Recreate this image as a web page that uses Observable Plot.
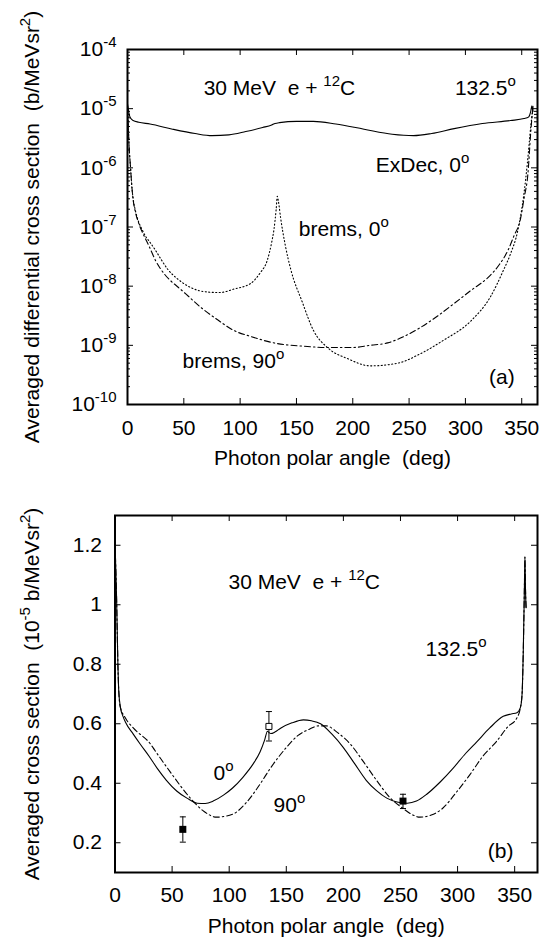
<!DOCTYPE html>
<html>
<head>
<meta charset="utf-8">
<script src="https://cdn.jsdelivr.net/npm/d3@7"></script>
<script src="https://cdn.jsdelivr.net/npm/@observablehq/plot@0.6"></script>
<style>
  body { margin: 0; background: #fff; }
  #chart svg { display: block; }
  svg text, svg tspan { white-space: pre; }
</style>
</head>
<body>
<div id="chart"></div>
<script>
// ---------------- data: panel (a) ----------------
const exdecAngle = [0, 0.5, 1.5, 3, 5, 10, 20, 40, 60, 75, 90, 105, 120, 128, 131, 135, 150, 165, 185, 210, 235, 254, 270, 290, 315, 340, 352, 356, 358, 359, 360];
const exdecValue = [1.2e-5, 1.05e-5, 8e-6, 6.8e-6, 6.3e-6, 5.9e-6, 5.5e-6, 4.5e-6, 3.8e-6, 3.5e-6, 3.6e-6, 4.1e-6, 4.8e-6, 5.3e-6, 5.6e-6, 5.8e-6, 6.1e-6, 6.1e-6, 5.5e-6, 4.5e-6, 3.7e-6, 3.5e-6, 3.8e-6, 4.6e-6, 5.6e-6, 6.3e-6, 6.8e-6, 7.2e-6, 9e-6, 1.12e-5, 9e-6];

const brems0Angle = [0, 0.7, 1.5, 2.7, 4, 5, 7, 10, 13, 16, 20, 25, 30, 36, 45, 56, 70, 82, 95, 109, 118, 124, 128, 130, 132, 133, 134, 136, 140, 145, 155, 165, 178, 195, 216, 240, 260, 280, 305, 322, 334, 340, 346.5, 352, 355, 358, 360];
const brems0Value = [1.1e-5, 5e-6, 2.2e-6, 1e-6, 4.5e-7, 3e-7, 1.9e-7, 1.2e-7, 9e-8, 7e-8, 5.5e-8, 4e-8, 2.8e-8, 1.9e-8, 1.3e-8, 9.5e-9, 8e-9, 7.8e-9, 9e-9, 1.1e-8, 1.7e-8, 2.7e-8, 5.5e-8, 9e-8, 2e-7, 3.3e-7, 2.7e-7, 1.4e-7, 5e-8, 1.9e-8, 5.5e-9, 1.8e-9, 9e-10, 6e-10, 4.5e-10, 5e-10, 7.2e-10, 1.2e-9, 2.6e-9, 6.5e-9, 1.9e-8, 3.5e-8, 8.7e-8, 3.7e-7, 1.2e-6, 5e-6, 1.1e-5];

const brems90Angle = [0, 0.7, 1.5, 2.7, 4, 5, 7, 10, 13, 16, 19, 25, 34, 38, 45, 55, 65, 80, 94, 110, 133, 155, 178, 200, 215, 231, 245, 260, 275, 290, 305, 320, 330, 337.7, 343, 349, 352, 355.5, 358, 360];
const brems90Value = [1.1e-5, 5e-6, 2.2e-6, 1e-6, 4.5e-7, 2.9e-7, 1.8e-7, 1.15e-7, 8.3e-8, 6.3e-8, 4.8e-8, 2.7e-8, 1.5e-8, 1.25e-8, 9.6e-9, 6.5e-9, 4.4e-9, 2.7e-9, 1.8e-9, 1.4e-9, 1.07e-9, 9.7e-10, 9.2e-10, 9.2e-10, 1e-9, 1.1e-9, 1.4e-9, 2e-9, 3.1e-9, 5.1e-9, 8.5e-9, 1.4e-8, 2.3e-8, 4e-8, 7e-8, 1.4e-7, 3e-7, 8e-7, 4e-6, 1.1e-5];

// ---------------- data: panel (b) ----------------
const sol0Angle = [0, 0.7, 1.4, 2, 2.6, 3.3, 4.8, 7, 9.2, 16, 22, 30, 37, 45, 54, 63, 72, 79, 86, 95, 103, 112, 121, 127, 131, 133.5, 135, 136.5, 140, 145, 155, 165, 172, 180, 190, 200, 210, 220, 229, 238, 247, 256, 264, 273, 285, 296, 307, 317, 328, 340, 347, 352, 355, 356.5, 357.5, 358.5, 359, 359.5, 360];
const sol0Value = [1.21, 1.12, 1.02, 0.9, 0.79, 0.71, 0.654, 0.625, 0.605, 0.565, 0.532, 0.49, 0.45, 0.41, 0.374, 0.35, 0.333, 0.332, 0.34, 0.36, 0.384, 0.42, 0.465, 0.505, 0.545, 0.575, 0.57, 0.567, 0.572, 0.585, 0.603, 0.613, 0.61, 0.6, 0.565, 0.52, 0.465, 0.41, 0.375, 0.35, 0.337, 0.333, 0.34, 0.363, 0.405, 0.45, 0.5, 0.54, 0.585, 0.625, 0.633, 0.637, 0.654, 0.7, 0.835, 1.05, 1.16, 1.05, 0.99];

const dd90Angle = [0, 0.7, 1.4, 2, 2.6, 3.3, 4.4, 9, 16, 31, 35, 48, 66, 78, 89, 103, 115, 127, 136, 150, 160, 171, 178, 185, 195, 206, 218, 229, 240, 252, 260, 267, 277, 287, 299, 311, 322, 334, 344, 352, 355, 356.5, 357.5, 358.5, 359, 359.5, 360];
const dd90Value = [1.21, 1.12, 1.02, 0.9, 0.79, 0.71, 0.66, 0.62, 0.586, 0.532, 0.51, 0.44, 0.35, 0.305, 0.286, 0.296, 0.335, 0.397, 0.45, 0.52, 0.56, 0.583, 0.593, 0.593, 0.57, 0.532, 0.47, 0.41, 0.355, 0.316, 0.295, 0.286, 0.293, 0.316, 0.37, 0.43, 0.49, 0.54, 0.59, 0.62, 0.654, 0.7, 0.835, 1.05, 1.16, 1.05, 0.99];

// measured points (angle, value, error low, error high), filled vs open
const ptAngle = [59.4, 134.8, 252.2];
const ptValue = [0.245, 0.591, 0.34];
const ptLow   = [0.202, 0.542, 0.315];
const ptHigh  = [0.287, 0.641, 0.363];
const ptOpen  = [false, true, false];

// ---------------- ticks ----------------
const xTicks = [0, 50, 100, 150, 200, 250, 300, 350];
const logExponents = [-10, -9, -8, -7, -6, -5, -4];
const minorMultipliers = [2, 3, 4, 5, 6, 7, 8, 9];
const yTicksB = [0.2, 0.4, 0.6, 0.8, 1, 1.2];
const yTickLabelsB = ["0.2", "0.4", "0.6", "0.8", "1", "1.2"];

// ---------------- labels ----------------
const xLabel = "Photon polar angle  (deg)";
const yLabelA = "Averaged differential cross section  (b/MeVsr^{2})";
const yLabelB = "Averaged cross section  (10^{-5} b/MeVsr^{2})";
const annoA = [
  {t: "30 MeV  e + ^{12}C", x: 67.6, y: 2.19e-5},
  {t: "132.5^{o}", x: 290.7, y: 2.19e-5},
  {t: "ExDec, 0^{o}", x: 220.4, y: 1.1e-6},
  {t: "brems, 0^{o}", x: 152, y: 9.1e-8},
  {t: "brems, 90^{o}", x: 48.9, y: 5.4e-10},
  {t: "(a)", x: 320.9, y: 2.9e-10}
];
const annoB = [
  {t: "30 MeV  e + ^{12}C", x: 99.4, y: 1.074},
  {t: "132.5^{o}", x: 272, y: 0.849},
  {t: "0^{o}", x: 86.3, y: 0.434},
  {t: "90^{o}", x: 138.9, y: 0.326},
  {t: "(b)", x: 326.4, y: 0.171}
];

// ---------------- build ----------------
const W = 559;
const FONT = "'Liberation Sans', Arial, Helvetica, sans-serif";
const FS = 21;

const zip = (a, v) => a.map((x, i) => ({x, y: v[i]}));
const logMajor = logExponents.map(e => Math.pow(10, e));
const logMinor = logExponents.slice(0, -1).flatMap(e => minorMultipliers.map(m => m * Math.pow(10, e)));

function frameTicks(xt, yMajor, yMinor, fw, fh) {
  const marks = [
    Plot.tickX(xt, {x: d => d, insetTop: fh - 6, stroke: "black", strokeWidth: 1}),
    Plot.tickX(xt, {x: d => d, insetBottom: fh - 6, stroke: "black", strokeWidth: 1}),
    Plot.tickY(yMajor, {y: d => d, insetRight: fw - 6, stroke: "black", strokeWidth: 1}),
    Plot.tickY(yMajor, {y: d => d, insetLeft: fw - 6, stroke: "black", strokeWidth: 1})
  ];
  if (yMinor) {
    marks.push(Plot.tickY(yMinor, {y: d => d, insetRight: fw - 3, stroke: "black", strokeWidth: 1}));
    marks.push(Plot.tickY(yMinor, {y: d => d, insetLeft: fw - 3, stroke: "black", strokeWidth: 1}));
  }
  return marks;
}

const hbar = {draw(ctx, size) { const w = Math.sqrt(size); ctx.moveTo(-w / 2, 0); ctx.lineTo(w / 2, 0); }};

const solidStyle = {stroke: "black", strokeWidth: 1.1, curve: "monotone-x"};
const dotStyle = {stroke: "black", strokeWidth: 1.1, strokeDasharray: "1.1,2.4", curve: "monotone-x"};
const dashDotStyle = {stroke: "black", strokeWidth: 1.1, strokeDasharray: "6,3,1.5,3", curve: "monotone-x"};

// panel (a)
const mA = {top: 49, bottom: 66, left: 127, right: 22};
const HA = 470;
const fwA = W - mA.left - mA.right, fhA = HA - mA.top - mA.bottom;
const plotA = Plot.plot({
  width: W, height: HA,
  marginTop: mA.top, marginBottom: mA.bottom, marginLeft: mA.left, marginRight: mA.right,
  style: {fontFamily: FONT, fontSize: FS + "px", background: "white", color: "black"},
  x: {domain: [0, 364], axis: null},
  y: {type: "log", domain: [1e-10, 1e-4], axis: null},
  marks: [
    Plot.line(zip(exdecAngle, exdecValue), {x: "x", y: "y", ...solidStyle}),
    Plot.line(zip(brems0Angle, brems0Value), {x: "x", y: "y", ...dotStyle}),
    Plot.line(zip(brems90Angle, brems90Value), {x: "x", y: "y", ...dashDotStyle}),
    ...frameTicks(xTicks, logMajor, logMinor, fwA, fhA),
    Plot.frame({stroke: "black", strokeWidth: 2}),
    Plot.axisX({ticks: xTicks, tickSize: 0, tickPadding: 16, fontSize: FS, label: null, tickFormat: d => String(d)}),
    Plot.axisY({ticks: logMajor, tickSize: 0, tickPadding: 11, fontSize: FS, label: null,
      tickFormat: d => "10^{" + Math.round(Math.log10(d)) + "}"}),
    Plot.text([xLabel], {frameAnchor: "bottom", textAnchor: "middle", text: d => d, dy: 60, fontSize: FS, fill: "black"}),
    Plot.text([yLabelA], {frameAnchor: "left", textAnchor: "middle", text: d => d, rotate: -90, dx: -95.7, fontSize: FS, fill: "black"}),
    Plot.text(annoA, {x: "x", y: "y", text: "t", textAnchor: "start", fontSize: FS, fill: "black"})
  ]
});

// panel (b)
const mB = {top: 45, bottom: 73, left: 114.5, right: 22};
const HB = 475;
const fwB = W - mB.left - mB.right, fhB = HB - mB.top - mB.bottom;
const pts = ptAngle.map((a, i) => ({x: a, y: ptValue[i], lo: ptLow[i], hi: ptHigh[i], open: ptOpen[i]}));
const plotB = Plot.plot({
  width: W, height: HB,
  marginTop: mB.top, marginBottom: mB.bottom, marginLeft: mB.left, marginRight: mB.right,
  style: {fontFamily: FONT, fontSize: FS + "px", background: "white", color: "black"},
  x: {domain: [0, 370], axis: null},
  y: {domain: [0.1, 1.3], axis: null},
  marks: [
    Plot.line(zip(sol0Angle, sol0Value), {x: "x", y: "y", ...solidStyle}),
    Plot.line(zip(dd90Angle, dd90Value), {x: "x", y: "y", ...dashDotStyle}),
    Plot.ruleX(pts, {x: "x", y1: "lo", y2: "hi", stroke: "black", strokeWidth: 1}),
    Plot.dot(pts, {x: "x", y: "lo", symbol: hbar, r: 3.4, stroke: "black", strokeWidth: 1}),
    Plot.dot(pts, {x: "x", y: "hi", symbol: hbar, r: 3.4, stroke: "black", strokeWidth: 1}),
    Plot.dot(pts.filter(d => !d.open), {x: "x", y: "y", symbol: "square", r: 3.95, fill: "black", stroke: "none"}),
    Plot.dot(pts.filter(d => d.open), {x: "x", y: "y", symbol: "square", r: 3.4, fill: "white", stroke: "black", strokeWidth: 1}),
    ...frameTicks(xTicks, yTicksB, null, fwB, fhB),
    Plot.frame({stroke: "black", strokeWidth: 2}),
    Plot.axisX({ticks: xTicks, tickSize: 0, tickPadding: 15, fontSize: FS, label: null, tickFormat: d => String(d)}),
    Plot.axisY({ticks: yTicksB, tickSize: 0, tickPadding: 13, fontSize: FS, label: null,
      tickFormat: d => yTickLabelsB[yTicksB.indexOf(d)]}),
    Plot.text([xLabel], {frameAnchor: "bottom", textAnchor: "middle", text: d => d, dy: 60, fontSize: FS, fill: "black"}),
    Plot.text([yLabelB], {frameAnchor: "left", textAnchor: "middle", text: d => d, rotate: -90, dx: -83.2, fontSize: FS, fill: "black"}),
    Plot.text(annoB, {x: "x", y: "y", text: "t", textAnchor: "start", fontSize: FS, fill: "black"})
  ]
});

// superscripts: "^{...}" -> raised, smaller tspan
function supify(svg) {
  d3.select(svg).selectAll("text").each(function () {
    const t = this.textContent;
    if (!t.includes("^{")) return;
    const sel = d3.select(this);
    sel.text(null);
    const parts = t.split(/(\^\{[^}]*\})/);
    let up = false;
    for (const p of parts) {
      if (!p) continue;
      if (p.startsWith("^{")) {
        sel.append("tspan").attr("dy", -9).attr("font-size", 15).text(p.slice(2, -1));
        up = true;
      } else {
        const ts = sel.append("tspan").text(p);
        if (up) { ts.attr("dy", 9); up = false; }
      }
    }
  });
}
supify(plotA);
supify(plotB);

const root = document.getElementById("chart");
root.append(plotA, plotB);
</script>
</body>
</html>
